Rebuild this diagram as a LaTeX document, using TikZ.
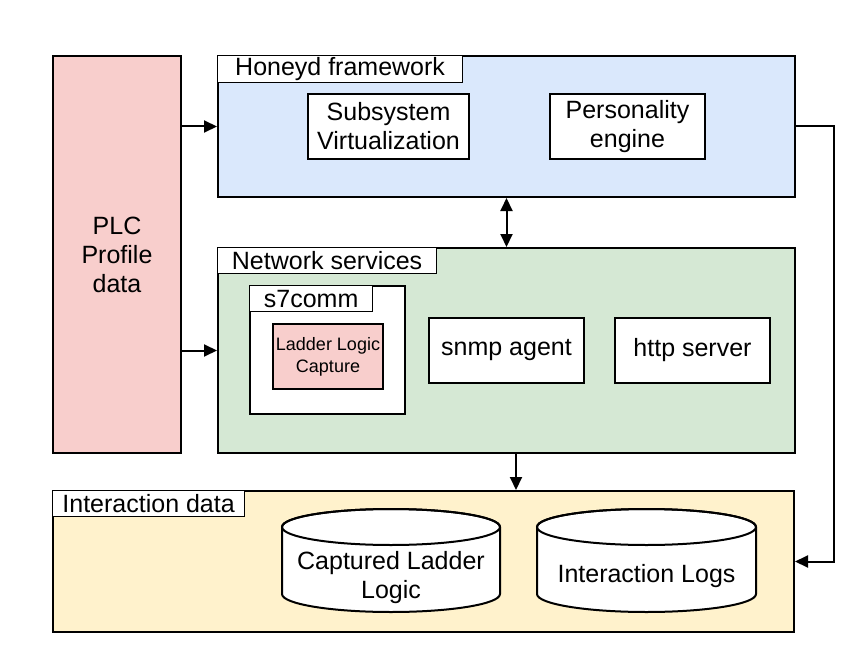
\documentclass[tikz,border=0pt]{standalone}
\usepackage{fontspec}
\setmainfont{Liberation Sans}
\usetikzlibrary{arrows.meta,calc}
\definecolor{plcred}{HTML}{F8CECC}
\definecolor{hblue}{HTML}{DAE8FC}
\definecolor{ngreen}{HTML}{D5E8D4}
\definecolor{iyellow}{HTML}{FFF2CC}
\tikzset{
  box/.style={draw=black, line width=2pt, rectangle, anchor=north west, inner sep=0pt, align=center, font=\fontsize{25}{29}\selectfont},
  lbl/.style={draw=black, line width=1.2pt, fill=white, rectangle, anchor=north west, inner sep=0pt, font=\fontsize{25}{29}\selectfont},
  arr/.style={line width=2pt, -{Triangle[length=13pt,width=12pt]}},
  darr/.style={line width=2pt, {Triangle[length=13pt,width=12pt]}-{Triangle[length=13pt,width=12pt]}},
  cyl/.style={draw=black, line width=2pt, fill=white},
  cyltext/.style={align=center, font=\fontsize{25}{29}\selectfont, inner sep=0pt}
}
\begin{document}
\begin{tikzpicture}[x=1pt,y=-1pt]
\useasboundingbox (0,0) rectangle (864,647);
% PLC
\node[box, fill=plcred, minimum width=128pt, minimum height=397pt] (plc) at (52,55) {PLC\\Profile\\data};
% Honeyd
\node[box, fill=hblue, minimum width=577pt, minimum height=141pt] (honeyd) at (217,55) {};
\node[lbl, minimum width=245pt, minimum height=27pt] (hlbl) at (217,55) {Honeyd framework};
\node[box, fill=white, minimum width=161pt, minimum height=65pt] (sub) at (307,93) {Subsystem\\Virtualization};
\node[box, fill=white, minimum width=155pt, minimum height=65pt] (pers) at (549,93) {Personality\\engine};
% Network services
\node[box, fill=ngreen, minimum width=577pt, minimum height=205pt] (net) at (217,247) {};
\node[lbl, minimum width=219pt, minimum height=26pt] (nlbl) at (217,247) {Network services};
\node[box, fill=white, minimum width=155pt, minimum height=128pt] (s7) at (249,285) {};
\node[lbl, minimum width=123pt, minimum height=26pt] (s7lbl) at (249,285) {s7comm};
\node[box, fill=plcred, minimum width=110pt, minimum height=65pt, font=\fontsize{18}{22}\selectfont] (ladder) at (272,323) {Ladder Logic\\Capture};
\node[box, fill=white, minimum width=155pt, minimum height=65pt] (snmp) at (428,317) {snmp agent};
\node[box, fill=white, minimum width=155pt, minimum height=65pt] (http) at (614,317) {http server};
% Interaction data
\node[box, fill=iyellow, minimum width=741pt, minimum height=141pt] (inter) at (52,490) {};
\node[lbl, minimum width=192pt, minimum height=26pt] (ilbl) at (52,490) {Interaction data};
% Cylinders
\path[cyl] (282,527) -- (282,594) arc[start angle=180, end angle=360, x radius=109pt, y radius=18pt] -- (500,527) arc[start angle=0, end angle=180, x radius=109pt, y radius=18pt] -- cycle;
\draw[line width=2pt] (391,527) ellipse [x radius=109pt, y radius=18pt];
\node[cyltext] (cap) at (391,578) {Captured Ladder\\Logic};
\path[cyl] (537,527) -- (537,594) arc[start angle=180, end angle=360, x radius=109.5pt, y radius=18pt] -- (756,527) arc[start angle=0, end angle=180, x radius=109.5pt, y radius=18pt] -- cycle;
\draw[line width=2pt] (646.5,527) ellipse [x radius=109.5pt, y radius=18pt];
\node[cyltext] (logs) at (646.5,576) {Interaction Logs};
% Connectors
\draw[arr] (plc.east |- honeyd.west) -- (honeyd.west);
\draw[arr] (plc.east |- net.west) -- (net.west);
\draw[darr] (honeyd.south) -- (net.north);
\coordinate (ns) at ($(net.south)+(9.5,0)$);
\draw[arr] (ns) -- (ns |- inter.north);
\draw[arr] (honeyd.east) -- ++(38,0) |- (inter.east);
\end{tikzpicture}
\end{document}
